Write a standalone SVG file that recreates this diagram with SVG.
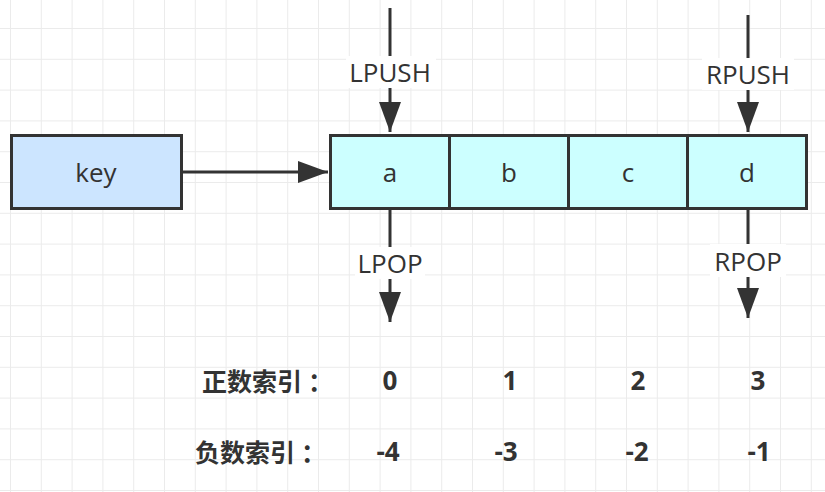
<svg xmlns="http://www.w3.org/2000/svg" width="825" height="492" viewBox="0 0 825 492">
<style>
.box{stroke:#333;stroke-width:3}
.key{fill:#cce5ff}
.cell{fill:#ccffff}
.edge{stroke:#333;stroke-width:3;fill:none}
.lbl{font-family:"Open Sans","Liberation Sans",sans-serif;font-size:26px;fill:#333;text-anchor:middle;dominant-baseline:central}
.cn{font-family:"Noto Sans CJK SC",sans-serif;font-size:25px;font-weight:bold;fill:#333;dominant-baseline:central}
.num{font-family:"Open Sans","Liberation Sans",sans-serif;font-size:26px;font-weight:bold;fill:#333;text-anchor:middle;dominant-baseline:central}
.bg{fill:#fff}
</style>
<defs>
<pattern id="grid" x="10" y="28" width="30.8" height="30.8" patternUnits="userSpaceOnUse">
<path d="M0 0V30.8M0 0H30.8" stroke="#ebebeb" stroke-width="2" fill="none"/>
</pattern>
<marker id="arr" viewBox="0 0 30 22" refX="30" refY="11" markerWidth="30" markerHeight="22" markerUnits="userSpaceOnUse" orient="auto">
<path d="M0 0L30 11L0 22Z" fill="#333"/>
</marker>
</defs>
<rect width="825" height="492" fill="#fff"/>
<rect width="825" height="492" fill="url(#grid)"/>
<g id="connectors">
<path class="edge" d="M183 172H328" marker-end="url(#arr)"/>
<path class="edge" d="M390 8V132" marker-end="url(#arr)"/>
<path class="edge" d="M748 15V132" marker-end="url(#arr)"/>
<path class="edge" d="M390 210V322" marker-end="url(#arr)"/>
<path class="edge" d="M748 210V318" marker-end="url(#arr)"/>
<rect class="bg" x="346" y="56" width="90" height="32"/>
<text class="lbl" x="390" y="72">LPUSH</text>
<rect class="bg" x="702" y="58" width="92" height="32"/>
<text class="lbl" x="748" y="74">RPUSH</text>
<rect class="bg" x="355" y="247" width="70" height="32"/>
<text class="lbl" x="390" y="263">LPOP</text>
<rect class="bg" x="710" y="244" width="76" height="33"/>
<text class="lbl" x="748" y="261">RPOP</text>
</g>
<g id="key">
<rect class="box key" x="11.5" y="135.5" width="170" height="73"/>
<text class="lbl" x="96" y="172">key</text>
</g>
<g id="a">
<rect class="box cell" x="330.5" y="135.5" width="119" height="73"/>
<text class="lbl" x="390" y="172">a</text>
</g>
<g id="b">
<rect class="box cell" x="449.5" y="135.5" width="119" height="73"/>
<text class="lbl" x="509" y="172">b</text>
</g>
<g id="c">
<rect class="box cell" x="568.5" y="135.5" width="119" height="73"/>
<text class="lbl" x="628" y="172">c</text>
</g>
<g id="d">
<rect class="box cell" x="687.5" y="135.5" width="119" height="73"/>
<text class="lbl" x="747" y="172">d</text>
</g>
<g id="pos-index">
<text class="cn" x="202" y="380">正数索引<tspan dx="6">：</tspan></text>
<text class="num" x="390" y="380">0</text>
<text class="num" x="510" y="380">1</text>
<text class="num" x="638" y="380">2</text>
<text class="num" x="758" y="380">3</text>
</g>
<g id="neg-index">
<text class="cn" x="195" y="451">负数索引<tspan dx="6">：</tspan></text>
<text class="num" x="388" y="451">-4</text>
<text class="num" x="506" y="451">-3</text>
<text class="num" x="637" y="451">-2</text>
<text class="num" x="759" y="451">-1</text>
</g>
</svg>
